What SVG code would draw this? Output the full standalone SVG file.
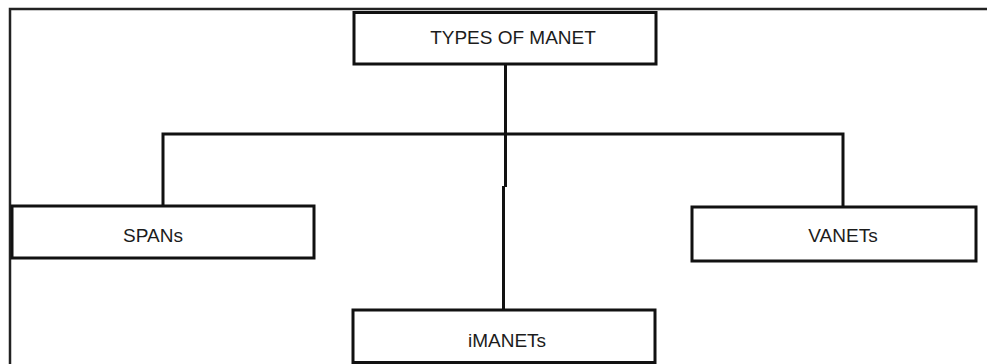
<svg xmlns="http://www.w3.org/2000/svg" width="987" height="364" viewBox="0 0 987 364">
  <style>
    .box { fill: #ffffff; stroke: #111111; stroke-width: 3; }
    .link { fill: none; stroke: #111111; stroke-width: 3; }
    .frame { fill: none; stroke: #222222; stroke-width: 2.5; }
    .label { font-family: "Liberation Sans", Arial, sans-serif; font-size: 19px; fill: #1c1c1c; text-anchor: middle; }
  </style>
  <rect width="987" height="364" fill="#ffffff"/>

  <!-- outer frame: top and left edges only -->
  <path class="frame" d="M10,364 V9 H987"/>

  <!-- connectors -->
  <g id="connectors">
    <path class="link" d="M505.5,64 V187"/>
    <path class="link" d="M503.5,186 V310"/>
    <path class="link" d="M163,206 V134 H843 V207"/>
  </g>

  <g id="types-of-manet">
    <rect class="box" x="354" y="12.5" width="302" height="51.5"/>
    <text class="label" x="513" y="44">TYPES OF MANET</text>
  </g>

  <g id="spans">
    <rect class="box" x="12" y="206" width="302" height="52"/>
    <text class="label" x="153" y="242">SPANs</text>
  </g>

  <g id="vanets">
    <rect class="box" x="692" y="207" width="284" height="54"/>
    <text class="label" x="843" y="242">VANETs</text>
  </g>

  <g id="imanets">
    <rect class="box" x="353" y="310" width="302" height="52.5"/>
    <text class="label" x="507" y="347">iMANETs</text>
  </g>
</svg>
